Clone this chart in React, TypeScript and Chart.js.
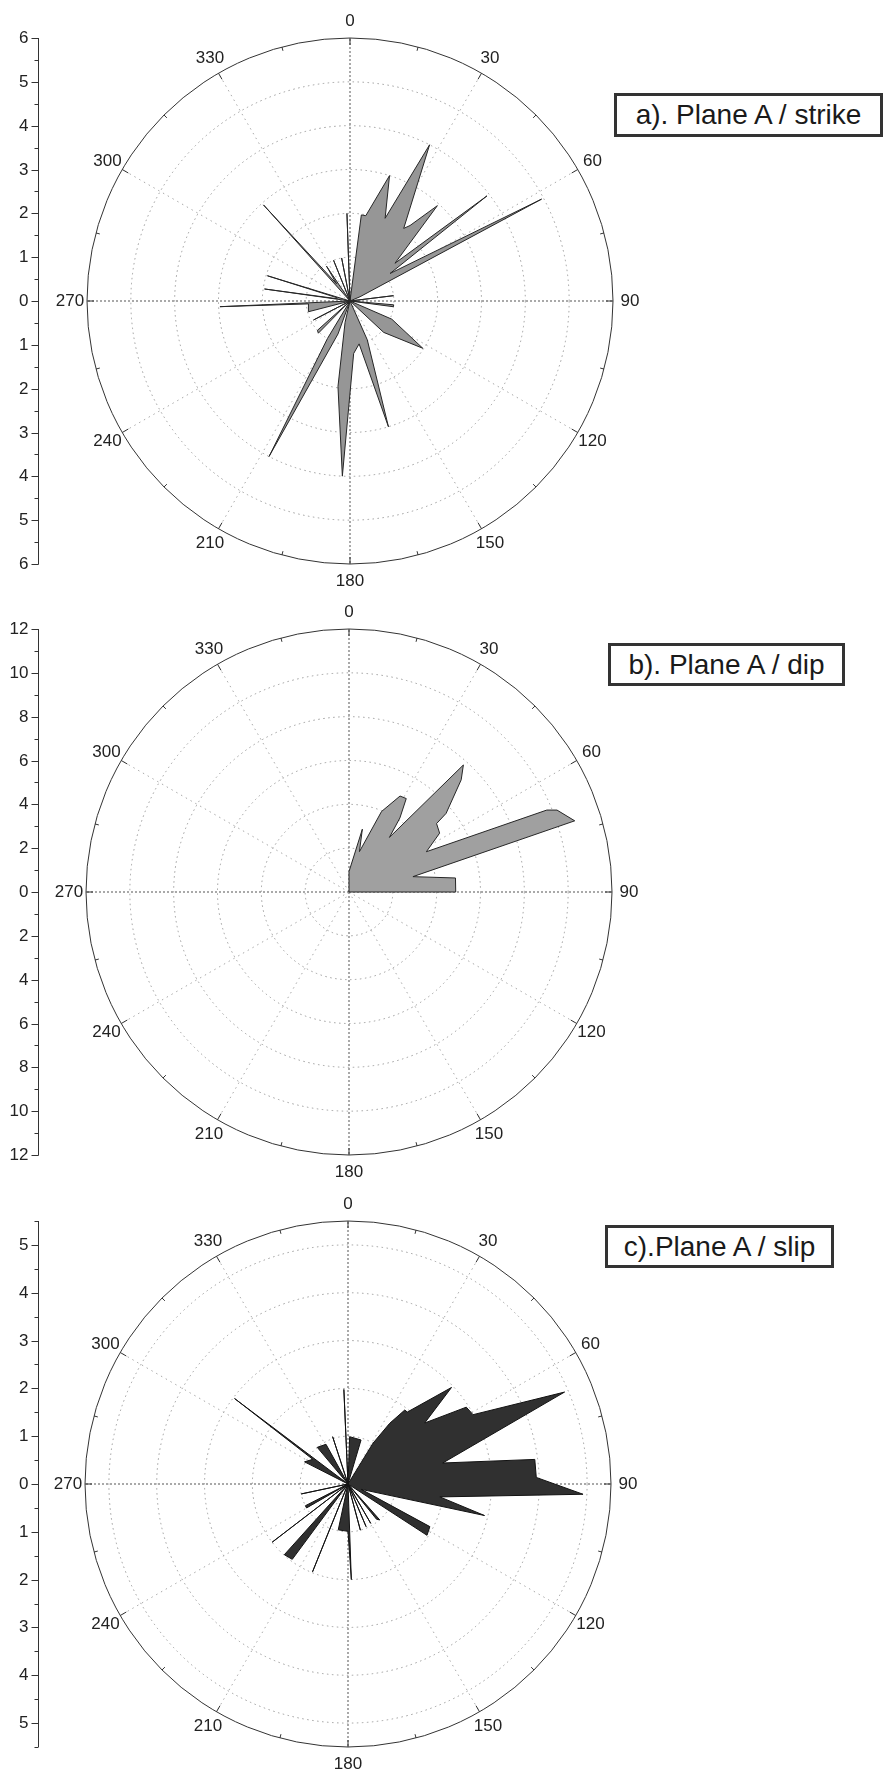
import React, { useEffect, useRef } from 'react';
import { Chart, registerables } from 'chart.js';

Chart.register(...registerables);

// ---------- angular categories used by the radar (0.5 degree bins) ----------
const STEP_DEG = 0.5;
const CATEGORY_COUNT = 720;
const radarCategories: string[] = Array.from({ length: CATEGORY_COUNT }, (_, i) => String(i * STEP_DEG));

// ---------- angle tick labels ----------
const angleTickDegrees = [0, 30, 60, 90, 120, 150, 180, 210, 240, 270, 300, 330];
const angleTickLabels = ['0', '30', '60', '90', '120', '150', '180', '210', '240', '270', '300', '330'];

// ---------- a) Plane A / strike ----------
const strikeAngles = [
  0, 7.5, 10.5, 17.5, 23, 27, 36.5, 38.5, 42.5, 50, 52.5, 55.5, 62, 67, 70,
  82, 83, 84, 92, 95, 97.5, 99,
  108, 113.5, 123, 133, 135,
  150, 156, 163, 168, 176, 182.5, 188, 193, 197, 200, 207.5, 211, 214,
  222, 224.5, 228, 230, 241, 242.5, 244,
  252, 255.5, 266, 267.5, 269,
  274, 278, 280, 284, 287, 290,
  314, 318, 322, 326, 328, 337, 338, 339, 348, 349, 350, 356, 358, 359,
];
const strikeValues = [
  0, 1.98, 1.98, 3.0, 2.05, 4.0, 2.06, 2.2, 2.95, 1.34, 3.94, 1.11, 4.95, 0.25, 0,
  0, 1.0, 0, 0, 1.0, 1.0, 0,
  0, 1.04, 1.98, 1.05, 0,
  0, 0.97, 3.0, 1.0, 1.2, 4.0, 1.97, 0.5, 0, 0.8, 4.0, 1.0, 0,
  0, 1.03, 1.0, 0, 0, 0.94, 0,
  0, 0.98, 0.95, 2.97, 0,
  0, 1.97, 0.3, 0.3, 1.97, 0,
  0, 2.95, 0.5, 0.96, 0, 0, 1.0, 0, 0, 1.0, 0, 0, 2.0, 0,
];
const strikeGrid = [0, 1, 2, 3, 4, 5, 6];
const strikeAxisTicks = [-6, -5, -4, -3, -2, -1, 0, 1, 2, 3, 4, 5, 6];

// ---------- b) Plane A / dip ----------
const dipAngles = [
  0, 12, 14.5, 22, 28, 31.5, 34.5, 36.5, 42, 45, 51, 52, 57, 62.5,
  67.5, 68.5, 72.5, 76.5, 82.5, 90, 90.5,
];
const dipValues = [
  0.93, 2.93, 1.9, 3.96, 4.96, 5.0, 4.1, 3.1, 7.8, 7.24, 5.7, 5.07, 4.93, 3.98,
  9.77, 10.2, 10.8, 3.0, 4.9, 4.87, 0,
];
const dipGrid = [0, 2, 4, 6, 8, 10, 12];
const dipAxisTicks = [-12, -10, -8, -6, -4, -2, 0, 2, 4, 6, 8, 10, 12];

// ---------- c) Plane A / slip ----------
const slipAngles = [
  0, 2, 16.5, 17,
  30, 31.5, 34.5, 37.5, 39.5, 47, 51.5, 57, 61, 67, 77.5, 82.5, 88, 92.5, 98, 103, 112,
  117.5, 123, 124,
  136.5, 138.5, 141, 142, 149.5, 150, 150.5, 156.5, 157, 157.5, 164.5, 165, 165.5,
  177, 178, 180, 192, 193,
  201, 202, 203, 215.5, 216.5, 222, 222.5, 231.5, 232.5, 233.5,
  239, 240, 243, 244, 257, 258, 259,
  294, 297, 305, 307, 308,
  318.5, 320, 331, 332, 341, 342, 343, 356.5, 357.5, 358.5,
];
const slipValues = [
  0, 0.99, 0.96, 0,
  0, 1.0, 1.54, 1.95, 1.95, 2.96, 2.05, 2.95, 2.99, 4.92, 2.03, 3.94, 3.94, 4.92, 1.94, 2.93, 0.3,
  1.93, 1.97, 0,
  0, 1.0, 0.95, 0, 0, 0.95, 0, 0, 0.97, 0, 0, 1.0, 0,
  0, 2.0, 0.99, 0.98, 0,
  0, 1.98, 0, 0, 1.96, 1.99, 0, 0, 2.0, 0,
  0, 1.0, 1.0, 0, 0, 1.0, 0,
  0, 1.02, 0.9, 2.97, 0,
  0, 1.0, 0.95, 0, 0, 1.04, 0, 0, 1.98, 0,
];
const slipGrid = [0, 1, 2, 3, 4, 5, 5.5];
const slipAxisTicks = [-5, -4, -3, -2, -1, 0, 1, 2, 3, 4, 5];

type Panel = {
  top: number;
  height: number;
  cx: number;
  cy: number;
  radius: number;
  max: number;
  grid: number[];
  axisTicks: number[];
  minorStep: number;
  angles: number[];
  values: number[];
  fill: string;
  line: string;
  title: string;
  box: { left: number; top: number; width: number; height: number };
};

const panels: Panel[] = [
  {
    top: 0, height: 590, cx: 350, cy: 301, radius: 263, max: 6,
    grid: strikeGrid, axisTicks: strikeAxisTicks, minorStep: 0.5,
    angles: strikeAngles, values: strikeValues,
    fill: '#969696', line: '#262626', title: 'a). Plane A / strike',
    box: { left: 614, top: 93, width: 269, height: 44 },
  },
  {
    top: 590, height: 590, cx: 349, cy: 302, radius: 263, max: 12,
    grid: dipGrid, axisTicks: dipAxisTicks, minorStep: 1,
    angles: dipAngles, values: dipValues,
    fill: '#a0a0a0', line: '#262626', title: 'b). Plane A / dip',
    box: { left: 608, top: 643, width: 237, height: 43 },
  },
  {
    top: 1180, height: 595, cx: 348, cy: 304, radius: 263, max: 5.5,
    grid: slipGrid, axisTicks: slipAxisTicks, minorStep: 0.5,
    angles: slipAngles, values: slipValues,
    fill: '#303030', line: '#111111', title: 'c).Plane A / slip',
    box: { left: 605, top: 1225, width: 229, height: 43 },
  },
];

const FONT = '"Liberation Sans", Arial, Helvetica, sans-serif';

function buildSeries(angles: number[], values: number[]): (number | null)[] {
  const data: (number | null)[] = new Array(CATEGORY_COUNT).fill(null);
  angles.forEach((a, i) => {
    data[Math.round(a / STEP_DEG) % CATEGORY_COUNT] = values[i];
  });
  return data;
}

function makeExtras(p: Panel) {
  return {
    id: 'roseExtras',
    afterDraw(chart: any) {
      const s: any = chart.scales.r;
      const ctx: CanvasRenderingContext2D = chart.ctx;
      const R = s.getDistanceFromCenterForValue(p.max);
      ctx.save();
      ctx.setLineDash([]);
      ctx.strokeStyle = '#333';
      ctx.lineWidth = 1;
      // ticks on the outer circle
      for (let d = 0; d < 360; d += 15) {
        const len = d % 30 === 0 ? 7 : 4;
        const a = s.getPointPosition(d / STEP_DEG, R);
        const b = s.getPointPosition(d / STEP_DEG, R - len);
        ctx.beginPath();
        ctx.moveTo(a.x, a.y);
        ctx.lineTo(b.x, b.y);
        ctx.stroke();
      }
      // angle labels
      ctx.fillStyle = '#222';
      ctx.font = '17px ' + FONT;
      ctx.textAlign = 'center';
      ctx.textBaseline = 'middle';
      angleTickDegrees.forEach((d, i) => {
        const pos = s.getPointPosition(d / STEP_DEG, R + 17);
        ctx.fillText(angleTickLabels[i], pos.x, pos.y);
      });
      // left linear axis
      const ax = 38.5;
      const yc = s.yCenter;
      const yOf = (v: number) => Math.round(yc - Math.sign(v) * s.getDistanceFromCenterForValue(Math.abs(v))) + 0.5;
      ctx.beginPath();
      ctx.moveTo(ax, yc - R);
      ctx.lineTo(ax, yc + R);
      ctx.stroke();
      for (let v = -p.max; v <= p.max + 1e-9; v += p.minorStep) {
        const y = yOf(v);
        ctx.beginPath();
        ctx.moveTo(ax - 4, y);
        ctx.lineTo(ax, y);
        ctx.stroke();
      }
      ctx.font = '17px ' + FONT;
      ctx.textAlign = 'right';
      p.axisTicks.forEach((v) => {
        const y = yOf(v);
        ctx.beginPath();
        ctx.moveTo(ax - 7, y);
        ctx.lineTo(ax, y);
        ctx.stroke();
        ctx.fillText(String(Math.abs(v)), ax - 10, y);
      });
      ctx.restore();
    },
  };
}

function RosePanel({ p }: { p: Panel }) {
  const ref = useRef<HTMLCanvasElement | null>(null);
  useEffect(() => {
    const canvas = ref.current;
    if (!canvas) return;
    const W = 885;
    const chart = new Chart(canvas, {
      type: 'radar',
      data: {
        labels: radarCategories,
        datasets: [
          {
            data: buildSeries(p.angles, p.values),
            fill: 'origin',
            backgroundColor: p.fill,
            borderColor: p.line,
            borderWidth: 1,
            pointRadius: 0,
            pointHoverRadius: 0,
            pointHitRadius: 0,
            spanGaps: true,
            tension: 0,
          } as any,
        ],
      },
      options: {
        responsive: false,
        maintainAspectRatio: false,
        animation: false,
        events: [],
        layout: {
          padding: {
            left: p.cx - p.radius,
            top: p.cy - p.radius,
            right: W - p.cx - p.radius,
            bottom: p.height - p.cy - p.radius,
          },
        },
        plugins: {
          legend: { display: false },
          tooltip: { enabled: false },
        },
        scales: {
          r: {
            min: 0,
            max: p.max,
            startAngle: 0,
            afterBuildTicks: (scale: any) => {
              scale.ticks = p.grid.map((v) => ({ value: v }));
            },
            ticks: { display: false },
            pointLabels: { display: false },
            grid: {
              circular: true,
              lineWidth: 1,
              color: (c: any) => (c.tick && c.tick.value >= p.max - 1e-9 ? '#333' : '#9c9c9c'),
            },
            border: {
              dash: (c: any) => (c.tick && c.tick.value >= p.max - 1e-9 ? [] : [1.5, 3.5]),
            },
            angleLines: {
              display: true,
              lineWidth: (c: any) => (c.index % 60 === 0 ? 1 : 0),
              color: (c: any) => (c.index % 180 === 0 ? '#555' : '#a8a8a8'),
              borderDash: (c: any) => (c.index % 180 === 0 ? [2, 2] : [1.5, 4]),
            },
          } as any,
        },
      },
      plugins: [makeExtras(p)],
    });
    return () => chart.destroy();
  }, []);
  return (
    <canvas
      ref={ref}
      width={885}
      height={p.height}
      style={{ position: 'absolute', left: 0, top: p.top, width: 885, height: p.height }}
    />
  );
}

export default function App() {
  return (
    <div style={{ position: 'absolute', left: 0, top: 0, width: 885, height: 1775, background: '#fff', overflow: 'hidden' }}>
      {panels.map((p, i) => (
        <RosePanel key={i} p={p} />
      ))}
      {panels.map((p, i) => (
        <div
          key={'t' + i}
          style={{
            position: 'absolute',
            left: p.box.left,
            top: p.box.top,
            width: p.box.width,
            height: p.box.height,
            boxSizing: 'border-box',
            border: '3px solid #333',
            fontFamily: FONT,
            fontSize: 28,
            color: '#1a1a1a',
            lineHeight: p.box.height - 6 + 'px',
            textAlign: 'center',
            whiteSpace: 'nowrap',
            background: '#fff',
          }}
        >
          {p.title}
        </div>
      ))}
    </div>
  );
}
